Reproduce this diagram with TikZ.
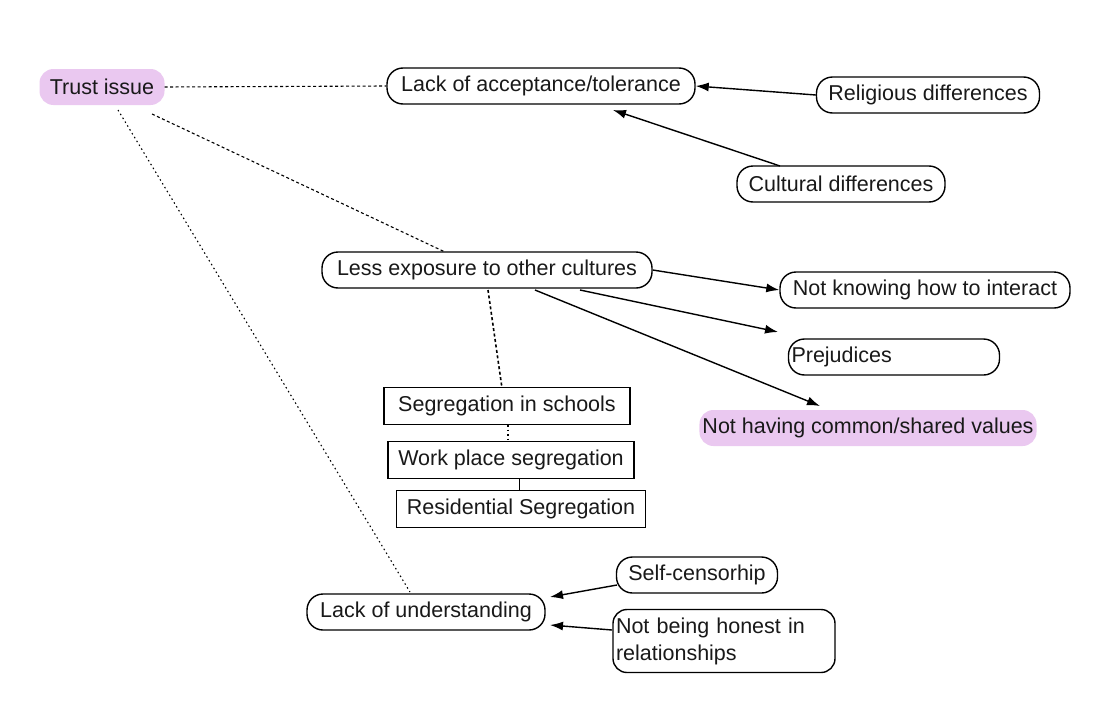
\documentclass[tikz,border=0pt]{standalone}
\usepackage{fontspec}
\setmainfont{Liberation Sans}
\usetikzlibrary{arrows.meta}
\definecolor{pinkfill}{RGB}{234,200,240}
\tikzset{
  x=1pt,y=-1pt,
  lbl/.style={font=\fontsize{21.5}{25}\selectfont,text=black!90},
  pill/.style={lbl,draw,line width=1.4pt,rounded corners=16pt,minimum height=36pt,inner sep=3pt},
  sbox/.style={lbl,draw,line width=1.4pt,minimum height=37pt,inner sep=3pt},
  hl/.style={lbl,fill=pinkfill,rounded corners=14pt,minimum height=36pt,inner sep=3pt},
  dsh/.style={line width=1.1pt,dash pattern=on 3pt off 2.5pt},
  dot/.style={line width=1.1pt,dash pattern=on 1.5pt off 3pt},
  arr/.style={line width=1.4pt,-{Latex[length=13pt,width=9pt]}},
}
\begin{document}
\begin{tikzpicture}
\useasboundingbox[fill=white] (0,0) rectangle (1108,704);
\node[hl,minimum width=125pt] (trust) at (102,87) {Trust issue};
\node[pill,minimum width=308pt] (acc) at (541,86) {Lack of acceptance/tolerance};
\node[pill,minimum width=223pt] (rel) at (928,95) {Religious differences};
\node[pill,minimum width=208pt] (cul) at (841,184) {Cultural differences};
\node[pill,minimum width=330pt] (less) at (487,270) {Less exposure to other cultures};
\node[pill,minimum width=290pt] (know) at (925,290) {Not knowing how to interact};
\node[pill,text width=205pt,align=left] (prej) at (894,357) {Prejudices};
\node[hl,minimum width=335pt] (val) at (868,428) {Not having common/shared values};
\node[sbox,minimum width=246pt] (school) at (507,406) {Segregation in schools};
\node[sbox,minimum width=246pt] (work) at (511,460) {Work place segregation};
\node[sbox,minimum width=249pt] (res) at (521,509) {Residential Segregation};
\node[pill,minimum width=161pt] (self) at (697,575) {Self-censorhip};
\node[pill,minimum width=238pt] (und) at (426,612) {Lack of understanding};
\node[pill,rounded corners=14pt,text width=216pt,align=left,font=\fontsize{21.5}{27}\selectfont,minimum height=63pt] (hon) at (724,641) {Not being honest in\\relationships};
% dashed links
\draw[dsh] (trust.east) -- (acc.west);
\coordinate (t1) at (152,114);
\coordinate (lessTop) at (445,252);
\draw[dsh] (t1) -- (lessTop);
\coordinate (t2) at (118,110);
\coordinate (undTop) at (410,592);
\draw[dot] (t2) -- (undTop);
\coordinate (lessBot) at (488,290);
\coordinate (schoolTop) at (502,388);
\draw[dsh,line width=1.6pt] (lessBot) -- (schoolTop);
\draw[dot] (508,425) -- (508,441);
\draw[line width=0.8pt] (519,479) -- (519,491);
% arrows
\draw[arr] (rel.west) -- (acc.east);
\coordinate (c1) at (780,166);
\draw[arr] (c1) -- (613,110);
\draw[arr] (less.east) -- (know.west);
\coordinate (l2) at (580,290);
\draw[arr] (l2) -- (778,332);
\coordinate (l3) at (535,290);
\draw[arr] (l3) -- (820,406);
\coordinate (s1) at (617,585);
\draw[arr] (s1) -- (550,597);
\coordinate (h1) at (612,630);
\draw[arr] (h1) -- (550,625);
\end{tikzpicture}
\end{document}
